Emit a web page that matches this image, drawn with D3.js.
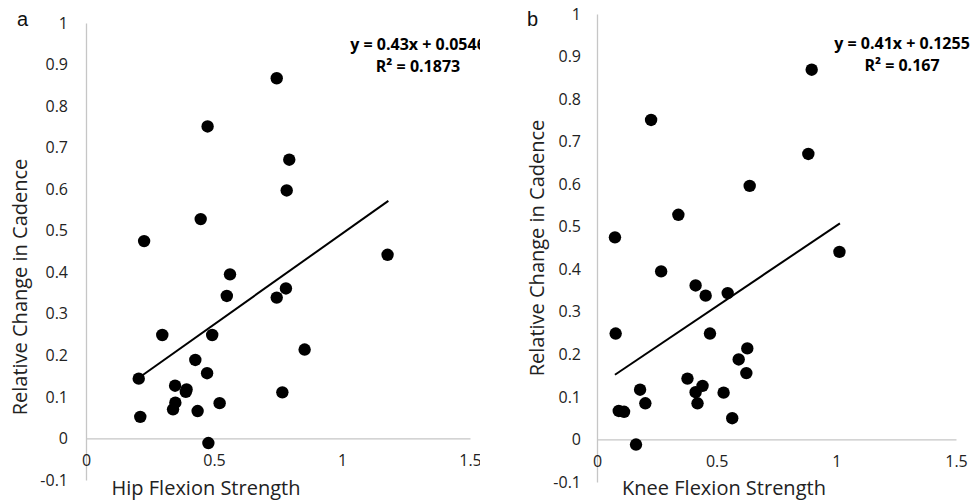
<!DOCTYPE html>
<html>
<head>
<meta charset="utf-8">
<script src="https://cdn.jsdelivr.net/npm/d3@7"></script>
<style>
  body { margin: 0; background: #fff; }
  svg { display: block; font-family: "Open Sans", sans-serif; }
  .domain { stroke: #c6c6c6; stroke-width: 1.3; }
  .tick text { fill: #222; font-size: 16px; }
</style>
</head>
<body>
<div id="chart"></div>
<script>
// Hip flexion strength (panel a)
const hipX = [0.745, 0.475, 0.794, 0.784, 0.448, 0.227, 1.178, 0.5625, 0.55, 0.745, 0.781, 0.298, 0.493, 0.854,
  0.427, 0.473, 0.206, 0.348, 0.393, 0.39, 0.767, 0.349, 0.340, 0.436, 0.522, 0.212, 0.478];
const hipY = [0.867, 0.751, 0.671, 0.597, 0.528, 0.475, 0.442, 0.395, 0.343, 0.339, 0.361, 0.249, 0.249, 0.214,
  0.189, 0.157, 0.144, 0.127, 0.118, 0.112, 0.111, 0.086, 0.070, 0.066, 0.085, 0.052, -0.011];

// Knee flexion strength (panel b)
const kneeX = [0.897, 0.226, 0.883, 0.638, 0.340, 0.075, 1.013, 0.268, 0.412, 0.454, 0.546, 0.078, 0.472, 0.628,
  0.592, 0.624, 0.378, 0.441, 0.412, 0.180, 0.529, 0.420, 0.202, 0.091, 0.113, 0.565, 0.163];
const kneeY = [0.869, 0.751, 0.671, 0.596, 0.528, 0.475, 0.441, 0.395, 0.362, 0.338, 0.344, 0.249, 0.249, 0.214,
  0.188, 0.156, 0.143, 0.126, 0.111, 0.117, 0.110, 0.085, 0.085, 0.067, 0.065, 0.050, -0.012];

// trendline end points
const hipTrend = [[0.204, 0.145], [1.181, 0.572]];
const kneeTrend = [[0.075, 0.152], [1.015, 0.508]];

const xTicks = [0, 0.5, 1, 1.5];
const yTicks = [-0.1, 0, 0.1, 0.2, 0.3, 0.4, 0.5, 0.6, 0.7, 0.8, 0.9, 1];

let svg = d3.select("#chart").append("svg")
    .attr("width", 971)
    .attr("height", 502);

svg.append("clipPath").attr("id", "clipA")
    .append("rect").attr("x", 0).attr("y", 0).attr("width", 480).attr("height", 502);

function drawPanel(opt) {
    let g = svg.append("g");
    if (opt.clip) g.attr("clip-path", "url(#" + opt.clip + ")");

    let x = d3.scaleLinear().domain([0, 1.5]).range(opt.xRange);
    let y = d3.scaleLinear().domain([-0.1, 1]).range(opt.yRange);

    // Y axis (plain hyphen for negatives, like the original)
    g.append("g")
        .attr("transform", "translate(" + opt.xRange[0] + ",0)")
        .call(d3.axisLeft(y).tickValues(yTicks).tickSize(0).tickPadding(opt.yPad)
            .tickFormat(d => String(+d.toFixed(1))));

    // X axis at y = 0
    g.append("g")
        .attr("transform", "translate(0," + y(0) + ")")
        .call(d3.axisBottom(x).tickValues(xTicks).tickSize(0).tickPadding(16)
            .tickFormat(d => String(d)));

    g.selectAll(".tick text").style("font-family", "Open Sans");

    // trendline
    g.append("path")
        .datum(opt.trend)
        .attr("fill", "none")
        .attr("stroke", "#000")
        .attr("stroke-width", 2)
        .attr("d", d3.line().x(d => x(d[0])).y(d => y(d[1])));

    // points
    g.selectAll(".dot")
        .data(opt.xs.map((v, i) => [v, opt.ys[i]]))
        .enter().append("circle")
        .attr("class", "dot")
        .attr("cx", d => x(d[0]))
        .attr("cy", d => y(d[1]))
        .attr("r", 6.2)
        .attr("fill", "#000");

    // axis titles
    g.append("text")
        .attr("transform", "translate(" + opt.yTitle[0] + "," + opt.yTitle[1] + ") rotate(-90)")
        .attr("text-anchor", "middle")
        .attr("dy", "0.35em")
        .style("font-size", "20px")
        .attr("fill", "#222")
        .text("Relative Change in Cadence");

    g.append("text")
        .attr("x", opt.xTitle[0])
        .attr("y", opt.xTitle[1])
        .attr("text-anchor", "middle")
        .attr("dy", "0.35em")
        .style("font-size", "20px")
        .attr("fill", "#222")
        .text(opt.xLabel);

    // panel letter
    g.append("text")
        .attr("x", opt.letterPos[0])
        .attr("y", opt.letterPos[1])
        .attr("dy", "0.35em")
        .style("font-family", "Liberation Sans, Arial, sans-serif")
        .style("font-size", "20px")
        .attr("fill", "#111")
        .text(opt.letter);

    // equation
    g.append("text")
        .attr("x", opt.eqPos[0])
        .attr("y", opt.eqPos[1])
        .attr("text-anchor", "middle")
        .attr("dy", "0.35em")
        .style("font-size", "16px")
        .style("font-weight", "bold")
        .attr("fill", "#000")
        .text(opt.eq);

    g.append("text")
        .attr("x", opt.eqPos[0])
        .attr("y", opt.eqPos[1] + 22)
        .attr("text-anchor", "middle")
        .attr("dy", "0.35em")
        .style("font-size", "16px")
        .style("font-weight", "bold")
        .attr("fill", "#000")
        .text("R² = " + opt.r2);
}

drawPanel({
    clip: "clipA",
    xs: hipX, ys: hipY, trend: hipTrend,
    xRange: [86, 470], yRange: [480, 23], yPad: 18,
    yTitle: [20, 287], xTitle: [206, 488],
    xLabel: "Hip Flexion Strength",
    letter: "a", letterPos: [17, 19],
    eq: "y = 0.43x + 0.0546", eqPos: [418, 44], r2: "0.1873"
});

drawPanel({
    xs: kneeX, ys: kneeY, trend: kneeTrend,
    xRange: [597, 956], yRange: [482, 14], yPad: 16,
    yTitle: [537, 248], xTitle: [724, 488],
    xLabel: "Knee Flexion Strength",
    letter: "b", letterPos: [527, 19],
    eq: "y = 0.41x + 0.1255", eqPos: [902, 43], r2: "0.167"
});
</script>
</body>
</html>
